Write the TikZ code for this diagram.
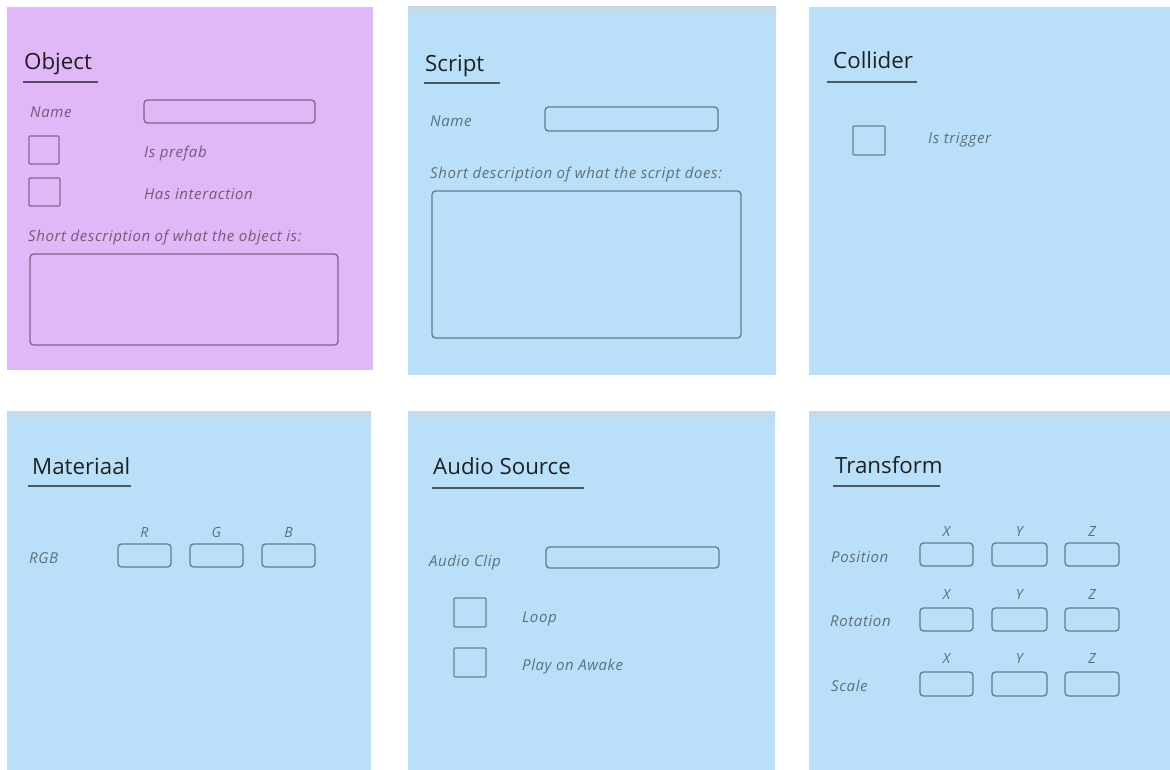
\documentclass[tikz,border=0pt]{standalone}
\usepackage{fontspec}
\setmainfont{Open Sans}
\newfontfamily\lblfont[LetterSpace=4]{Open Sans}
\definecolor{lav}{RGB}{224,184,248}
\definecolor{sky}{RGB}{185,224,248}
\definecolor{skytop}{RGB}{200,216,228}
\tikzset{
  ttl/.style={font=\fontsize{22.3}{26}\selectfont, text=black, text opacity=0.85, anchor=base west, inner sep=0pt},
  lbl/.style={font=\lblfont\fontsize{15}{18}\selectfont\itshape, text=black, text opacity=0.5, anchor=base west, inner sep=0pt},
  axl/.style={font=\fontsize{14}{16}\selectfont\itshape, text=black, text opacity=0.5, anchor=base, inner sep=0pt},
  uline/.style={draw=black, draw opacity=0.6, line width=1.3pt},
  fieldbox/.style={draw=black, draw opacity=0.45, line width=1.3pt, rounded corners=3.5pt},
  checkbox/.style={draw=black, draw opacity=0.42, line width=1.3pt, rounded corners=1pt},
  band/.style={top color=skytop, bottom color=sky}
}
\begin{document}
\begin{tikzpicture}[x=1pt,y=-1pt]
\useasboundingbox (0,0) rectangle (1170,770);
\fill[white] (0,0) rectangle (1170,770);
% panels
\fill[lav] (7,7) rectangle (373,370);
\fill[sky] (408,7) rectangle (776,375);
\shade[band] (408,7) rectangle (776,16);
\fill[sky] (809,7) rectangle (1170,375);
\fill[sky] (7,411) rectangle (371,770);
\shade[band] (7,411) rectangle (371,421);
\fill[sky] (408,411) rectangle (775,770);
\shade[band] (408,411) rectangle (775,421);
\fill[sky] (809,411) rectangle (1170,770);
\shade[band] (809,411) rectangle (1170,421);

% ---- Object
\node[ttl] (objT) at (24,70) {Object};
\draw[uline] (23,82) -- (98,82);
\node[lbl] (objName) at (30,118) {Name};
\draw[fieldbox] (144,100) rectangle (315,123);
\draw[checkbox] (29,136) rectangle (59,164);
\node[lbl] (objPrefab) at (144,158) {Is prefab};
\draw[checkbox] (29,178) rectangle (60,206);
\node[lbl] (objInter) at (144,200) {Has interaction};
\node[lbl] (objDesc) at (28,241) {Short description of what the object is:};
\draw[fieldbox] (30,254) rectangle (338,345);

% ---- Script
\node[ttl] (scrT) at (425,72) {Script};
\draw[uline] (424,83) -- (500,83);
\node[lbl] (scrName) at (430,127) {Name};
\draw[fieldbox] (545,107) rectangle (718,131);
\node[lbl] (scrDesc) at (430,179) {Short description of what the script does:};
\draw[fieldbox] (432,191) rectangle (741,338);

% ---- Collider
\node[ttl] (colT) at (833,69) {Collider};
\draw[uline] (827,82) -- (917,82);
\draw[checkbox] (853,126) rectangle (885,155);
\node[lbl] (colTrig) at (928,144) {Is trigger};

% ---- Materiaal
\node[ttl] (matT) at (32,474) {Materiaal};
\draw[uline] (28,486) -- (131,486);
\node[lbl] (matRGB) at (29,563) {RGB};
\draw[fieldbox] (118,544) rectangle (171,567);
\draw[fieldbox] (190,544) rectangle (243,567);
\draw[fieldbox] (262,544) rectangle (315,567);
\node[axl] (matR) at (144.5,537) {R};
\node[axl] (matG) at (216.5,537) {G};
\node[axl] (matB) at (288.5,537) {B};

% ---- Audio Source
\node[ttl] (audT) at (433,474) {Audio Source};
\draw[uline] (432,488) -- (584,488);
\node[lbl] (audClip) at (429,566) {Audio Clip};
\draw[fieldbox] (546,547) rectangle (719,568);
\draw[checkbox] (454,598) rectangle (486,627);
\node[lbl] (audLoop) at (522,622) {Loop};
\draw[checkbox] (454,648) rectangle (486,677);
\node[lbl] (audPlay) at (522,670) {Play on Awake};

% ---- Transform
\node[ttl] (trT) at (835,473) {Transform};
\draw[uline] (833,486) -- (940,486);
\node[lbl] (trPos) at (831,562) {Position};
\node[lbl] (trRot) at (830,626) {Rotation};
\node[lbl] (trSca) at (831,691) {Scale};
\foreach \r/\ya/\yb/\yl in {p/543/566/536, r/608/631/599, s/672/696/663}{
  \draw[fieldbox] (920,\ya) rectangle (973,\yb);
  \draw[fieldbox] (992,\ya) rectangle (1047,\yb);
  \draw[fieldbox] (1065,\ya) rectangle (1119,\yb);
  \node[axl] (x\r) at (946.5,\yl) {X};
  \node[axl] (y\r) at (1019.5,\yl) {Y};
  \node[axl] (z\r) at (1092,\yl) {Z};
}
\end{tikzpicture}
\end{document}
